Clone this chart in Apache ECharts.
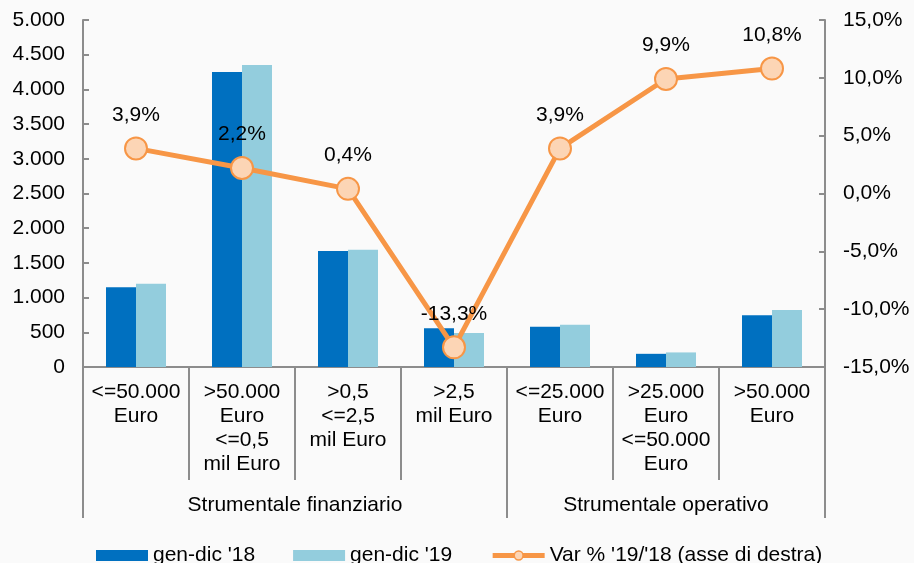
<!DOCTYPE html>
<html>
<head>
    <meta charset="utf-8">
    <title>Strumentale</title>
    <script src="https://cdn.jsdelivr.net/npm/echarts@6/dist/echarts.min.js"></script>
    <style>
        html, body { margin: 0; padding: 0; background: #fafafa; }
    </style>
</head>
<body>
    <div id="main" style="width: 914px;height:563px;"></div>
    <script type="text/javascript">
    // categorie e valori
    var categorie = [
        '<=50.000\nEuro',
        '>50.000\nEuro\n<=0,5\nmil Euro',
        '>0,5\n<=2,5\nmil Euro',
        '>2,5\nmil Euro',
        '<=25.000\nEuro',
        '>25.000\nEuro\n<=50.000\nEuro',
        '>50.000\nEuro'
    ];
    var gruppi = ['Strumentale finanziario', 'Strumentale operativo'];
    var gruppiInizio = [0, 4];   // indice della prima categoria di ogni gruppo
    var gruppiFine = [3, 6];
    var gen18 = [1150, 4250, 1670, 560, 580, 190, 745];
    var gen19 = [1200, 4350, 1690, 490, 610, 210, 820];
    var varPerc = [3.9, 2.2, 0.4, -13.3, 3.9, 9.9, 10.8];

    var font = 'Liberation Sans, Arial, sans-serif';
    var grigio = '#8c8c8c';
    var fs = 21;

    var myChart = echarts.init(document.getElementById('main'));

    function perc(v) {
        return v.toFixed(1).replace('.', ',') + '%';
    }

    var option = {
        backgroundColor: '#fafafa',
        textStyle: { fontFamily: font, color: '#000' },
        grid: { left: 83, right: 89, top: 20, bottom: 196 },
        legend: {
            left: 91,
            top: 540,
            itemWidth: 52,
            itemHeight: 11,
            itemGap: 38,
            textStyle: { fontSize: fs, color: '#000', fontFamily: font },
            data: [
                { name: "gen-dic '18", icon: 'rect' },
                { name: "gen-dic '19", icon: 'rect' },
                {
                    name: "Var % '19/'18 (asse di destra)",
                    lineStyle: { width: 5, color: '#F79646' },
                    itemStyle: { color: '#FCD5B5', borderColor: '#F79646', borderWidth: 1.5 }
                }
            ]
        },
        xAxis: [{
            type: 'category',
            data: categorie,
            position: 'bottom',
            axisLine: { show: true, onZero: false, lineStyle: { color: grigio, width: 2 } },
            axisTick: { show: true, interval: 0, length: 113, lineStyle: { color: grigio, width: 2 } },
            axisLabel: {
                interval: 0, fontSize: fs, lineHeight: 24, margin: 13,
                color: '#000', fontFamily: font
            }
        }, {
            type: 'category',
            data: categorie.map(function () { return ''; }),
            position: 'bottom',
            axisLine: { show: false, onZero: false },
            axisTick: {
                show: true,
                length: 151,
                interval: function (i) { return gruppiInizio.indexOf(i) >= 0; },
                lineStyle: { color: grigio, width: 2 }
            },
            axisLabel: { show: false }
        }],
        yAxis: [{
            type: 'value',
            min: 0, max: 5000, interval: 500,
            splitLine: { show: false },
            axisLine: { show: true, lineStyle: { color: grigio, width: 2 } },
            axisTick: { show: true, inside: true, length: 6, lineStyle: { color: grigio, width: 2 } },
            axisLabel: {
                fontSize: fs, margin: 18, color: '#000', fontFamily: font,
                formatter: function (v) { return v.toLocaleString('de-DE'); }
            }
        }, {
            type: 'value',
            min: -15, max: 15, interval: 5,
            splitLine: { show: false },
            axisLine: { show: true, lineStyle: { color: grigio, width: 2 } },
            axisTick: { show: true, inside: true, length: 6, lineStyle: { color: grigio, width: 2 } },
            axisLabel: {
                fontSize: fs, margin: 18, color: '#000', fontFamily: font,
                formatter: perc
            }
        }],
        series: [{
            name: "gen-dic '18",
            type: 'bar',
            data: gen18,
            barWidth: 30,
            barGap: '0%',
            itemStyle: { color: '#0070C0' }
        }, {
            name: "gen-dic '19",
            type: 'bar',
            data: gen19,
            barWidth: 30,
            itemStyle: { color: '#93CDDD' }
        }, {
            name: "Var % '19/'18 (asse di destra)",
            type: 'line',
            yAxisIndex: 1,
            data: varPerc,
            symbol: 'circle',
            symbolSize: 22,
            lineStyle: { color: '#F79646', width: 5 },
            itemStyle: { color: '#FCD5B5', borderColor: '#F79646', borderWidth: 2 },
            label: {
                show: true, position: 'top', distance: 11,
                fontSize: fs, color: '#000', fontFamily: font,
                formatter: function (p) { return perc(p.value); }
            },
            z: 5
        }]
    };

    myChart.setOption(option);

    // etichette dei gruppi, centrate sotto le rispettive categorie
    var grafici = gruppi.map(function (nome, i) {
        var a = myChart.convertToPixel({ xAxisIndex: 0 }, gruppiInizio[i]);
        var b = myChart.convertToPixel({ xAxisIndex: 0 }, gruppiFine[i]);
        return {
            type: 'text',
            x: (a + b) / 2,
            y: 505,
            style: {
                text: nome, fontSize: fs, fontFamily: font, fill: '#000',
                textAlign: 'center', textVerticalAlign: 'middle'
            }
        };
    });
    myChart.setOption({ graphic: grafici });
    </script>
</body>
</html>
